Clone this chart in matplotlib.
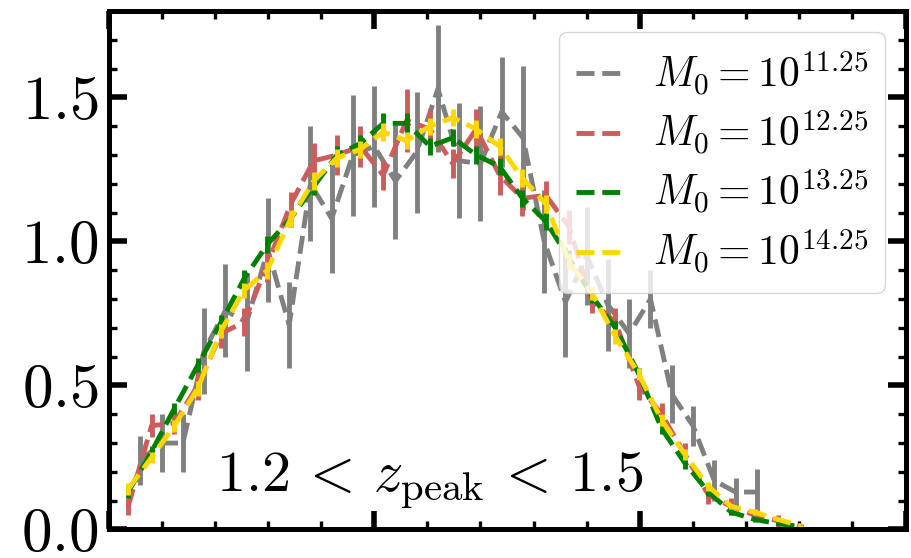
import numpy as np
import matplotlib
matplotlib.use("Agg")
import matplotlib.pyplot as plt
from matplotlib.ticker import MultipleLocator, FixedLocator, FixedFormatter

plt.rcParams["mathtext.fontset"] = "cm"
plt.rcParams["font.family"] = "serif"
plt.rcParams["font.serif"] = ["cmr10", "DejaVu Serif"]
plt.rcParams["axes.unicode_minus"] = False

# bin centres
x_gray = [0.06, 0.10, 0.14, 0.18, 0.22, 0.26, 0.30, 0.34, 0.38, 0.42,
          0.46, 0.50, 0.54, 0.58, 0.62, 0.66, 0.70, 0.74, 0.78, 0.82,
          0.86, 0.90, 0.94, 0.98, 1.02, 1.06, 1.10, 1.14, 1.18, 1.22]
x_fine = [0.037, 0.081, 0.124, 0.168, 0.212, 0.255, 0.299, 0.343, 0.386, 0.430,
          0.474, 0.517, 0.561, 0.605, 0.648, 0.692, 0.736, 0.779, 0.823, 0.867,
          0.910, 0.954, 0.998, 1.041, 1.085, 1.129, 1.172, 1.216, 1.260, 1.303]

# M0 = 10^11.25
y_1125 = [0.24, 0.30, 0.30, 0.62, 0.76, 0.72, 0.97, 0.71, 1.20, 1.08,
          1.30, 1.33, 1.21, 1.31, 1.53, 1.28, 1.27, 1.45, 1.36, 1.00,
          0.79, 0.95, 0.78, 0.68, 0.80, 0.47, 0.36, 0.17, 0.13, 0.13]
e_1125 = [0.085, 0.10, 0.10, 0.15, 0.16, 0.17, 0.18, 0.15, 0.20, 0.19,
          0.21, 0.21, 0.20, 0.21, 0.22, 0.20, 0.20, 0.19, 0.25, 0.18,
          0.19, 0.17, 0.16, 0.12, 0.10, 0.10, 0.07, 0.07, 0.05, 0.08]

# M0 = 10^12.25
y_1225 = [0.08, 0.36, 0.37, 0.50, 0.68, 0.72, 0.92, 1.13, 1.28, 1.30,
          1.33, 1.23, 1.42, 1.39, 1.27, 1.39, 1.23, 1.15, 1.16, 1.05,
          0.79, 0.72, 0.50, 0.40, 0.26, 0.12, 0.08, 0.05, 0.03, 0.01]
e_1225 = [0.03, 0.04, 0.04, 0.05, 0.05, 0.05, 0.06, 0.04, 0.06, 0.07,
          0.07, 0.05, 0.11, 0.07, 0.05, 0.07, 0.07, 0.06, 0.05, 0.06,
          0.04, 0.05, 0.05, 0.04, 0.04, 0.03, 0.03, 0.02, 0.02, 0.01]

# M0 = 10^13.25
y_1325 = [0.13, 0.27, 0.42, 0.57, 0.72, 0.87, 0.99, 1.08, 1.19, 1.30,
          1.34, 1.41, 1.41, 1.33, 1.36, 1.30, 1.26, 1.15, 1.07, 0.94,
          0.81, 0.70, 0.54, 0.35, 0.23, 0.13, 0.06, 0.035, 0.02, 0.01]
e_1325 = [0.02, 0.02, 0.02, 0.025, 0.025, 0.03, 0.03, 0.03, 0.03, 0.03,
          0.03, 0.035, 0.035, 0.03, 0.03, 0.03, 0.03, 0.03, 0.03, 0.03,
          0.025, 0.025, 0.02, 0.02, 0.02, 0.015, 0.01, 0.01, 0.005, 0.005]

# M0 = 10^14.25
y_1425 = [0.14, 0.25, 0.36, 0.49, 0.69, 0.83, 0.90, 1.08, 1.21, 1.29,
          1.32, 1.38, 1.35, 1.40, 1.43, 1.39, 1.33, 1.22, 1.13, 0.93,
          0.82, 0.67, 0.54, 0.38, 0.26, 0.15, 0.08, 0.06, 0.035, 0.012]
e_1425 = [0.02, 0.02, 0.02, 0.025, 0.025, 0.025, 0.03, 0.03, 0.03, 0.03,
          0.03, 0.03, 0.03, 0.03, 0.03, 0.03, 0.03, 0.03, 0.03, 0.025,
          0.025, 0.025, 0.02, 0.02, 0.02, 0.015, 0.01, 0.01, 0.005, 0.005]

series = [
    (x_gray, y_1125, e_1125, "gray", r"$M_0 = 10^{11.25}$"),
    (x_fine, y_1225, e_1225, "indianred", r"$M_0 = 10^{12.25}$"),
    (x_fine, y_1325, e_1325, "green", r"$M_0 = 10^{13.25}$"),
    (x_fine, y_1425, e_1425, "gold", r"$M_0 = 10^{14.25}$"),
]

ytick_values = [0.0, 0.5, 1.0, 1.5]
ytick_labels = [r"$%.1f$" % v for v in ytick_values]
label_text = r"$1.2\,<\,z_{\rm peak}\,<\,1.5$"

fig = plt.figure(figsize=(9.11, 5.58), dpi=100)
ax = fig.add_axes([0.1191, 0.0511, 0.8749, 0.9292])

handles = []
for xs, ys, es, col, lab in series:
    ax.errorbar(xs, ys, yerr=es, fmt="none", ecolor=col, elinewidth=3.5, capsize=0)
    ln, = ax.plot(xs, ys, ls="--", color=col, lw=3.5, label=lab)
    handles.append(ln)

ax.set_xlim(0, 1.5)
ax.set_ylim(0, 1.8)
ax.xaxis.set_major_locator(MultipleLocator(0.5))
ax.xaxis.set_minor_locator(MultipleLocator(0.1))
ax.yaxis.set_major_locator(FixedLocator(ytick_values))
ax.yaxis.set_major_formatter(FixedFormatter(ytick_labels))
ax.yaxis.set_minor_locator(MultipleLocator(0.1))

ax.tick_params(which="both", direction="in", top=True, right=True,
               labelbottom=False)
ax.tick_params(which="major", length=13, width=4, labelsize=44, pad=7)
ax.tick_params(which="minor", length=6, width=2.4)
for sp in ax.spines.values():
    sp.set_linewidth(3.6)

ax.legend(handles=handles, loc="upper right", fontsize=30, handlelength=1.05,
          handletextpad=0.8, labelspacing=0.25, borderpad=0.4)

ax.text(0.403, 0.072, label_text, transform=ax.transAxes, ha="center",
        va="baseline", fontsize=42)

fig.savefig("out.png", dpi=100)
